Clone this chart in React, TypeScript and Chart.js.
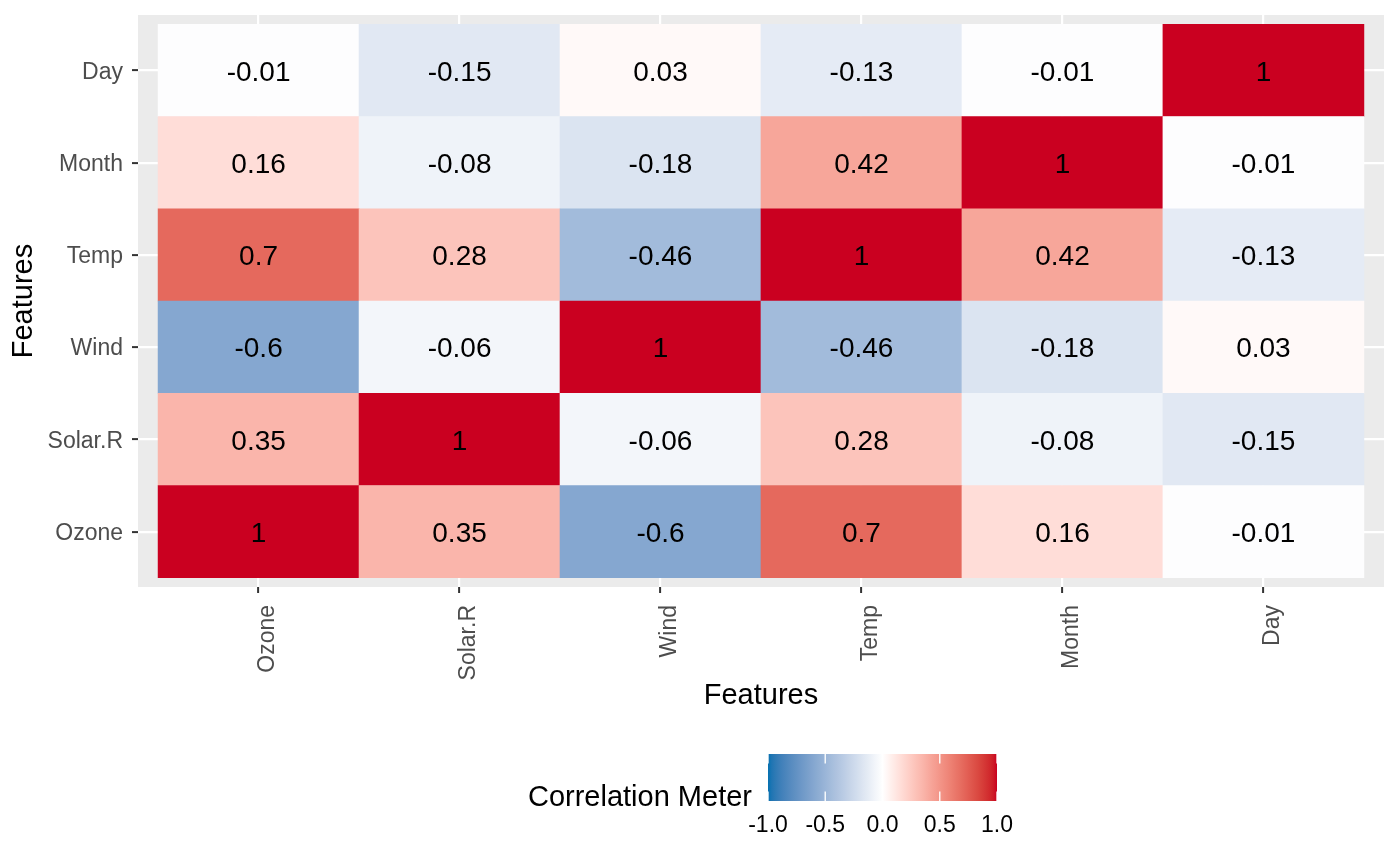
import React, { useEffect, useRef } from "react";
import { Chart, registerables } from "chart.js";

Chart.register(...registerables);

// ---- data ----
const features = ["Ozone", "Solar.R", "Wind", "Temp", "Month", "Day"];
const ozoneRow = [1, 0.35, -0.6, 0.7, 0.16, -0.01];
const solarRow = [0.35, 1, -0.06, 0.28, -0.08, -0.15];
const windRow = [-0.6, -0.06, 1, -0.46, -0.18, 0.03];
const tempRow = [0.7, 0.28, -0.46, 1, 0.42, -0.13];
const monthRow = [0.16, -0.08, -0.18, 0.42, 1, -0.01];
const dayRow = [-0.01, -0.15, 0.03, -0.13, -0.01, 1];
const correlation = [ozoneRow, solarRow, windRow, tempRow, monthRow, dayRow];
const legendTicks = [-1, -0.5, 0, 0.5, 1];
const axisTitle = "Features";
const legendTitle = "Correlation Meter";

// ---- colour (Lab interpolation like scale_fill_gradient2) ----
const LOW = "#0571B0";
const MID = "#FFFFFF";
const HIGH = "#CA0020";

function hexToRgb(h: string) {
  const n = parseInt(h.slice(1), 16);
  return [(n >> 16) & 255, (n >> 8) & 255, n & 255];
}
function toLin(c: number) {
  c /= 255;
  return c <= 0.04045 ? c / 12.92 : Math.pow((c + 0.055) / 1.055, 2.4);
}
function fromLin(c: number) {
  const v = c <= 0.0031308 ? 12.92 * c : 1.055 * Math.pow(c, 1 / 2.4) - 0.055;
  return Math.max(0, Math.min(255, Math.round(v * 255)));
}
const Xn = 0.95047, Yn = 1.0, Zn = 1.08883;
function rgbToLab(rgb: number[]) {
  const r = toLin(rgb[0]), g = toLin(rgb[1]), b = toLin(rgb[2]);
  const X = 0.4124564 * r + 0.3575761 * g + 0.1804375 * b;
  const Y = 0.2126729 * r + 0.7151522 * g + 0.072175 * b;
  const Z = 0.0193339 * r + 0.119192 * g + 0.9503041 * b;
  const f = (t: number) => (t > 0.008856 ? Math.cbrt(t) : 7.787 * t + 16 / 116);
  const fx = f(X / Xn), fy = f(Y / Yn), fz = f(Z / Zn);
  return [116 * fy - 16, 500 * (fx - fy), 200 * (fy - fz)];
}
function labToRgb(lab: number[]) {
  const fy = (lab[0] + 16) / 116;
  const fx = fy + lab[1] / 500;
  const fz = fy - lab[2] / 200;
  const fi = (t: number) => (t * t * t > 0.008856 ? t * t * t : (t - 16 / 116) / 7.787);
  const X = fi(fx) * Xn, Y = fi(fy) * Yn, Z = fi(fz) * Zn;
  const r = 3.2404542 * X - 1.5371385 * Y - 0.4985314 * Z;
  const g = -0.969266 * X + 1.8760108 * Y + 0.041556 * Z;
  const b = 0.0556434 * X - 0.2040259 * Y + 1.0572252 * Z;
  return [fromLin(r), fromLin(g), fromLin(b)];
}
const labLow = rgbToLab(hexToRgb(LOW));
const labMid = rgbToLab(hexToRgb(MID));
const labHigh = rgbToLab(hexToRgb(HIGH));
function fillColor(v: number) {
  const t = Math.min(1, Math.abs(v));
  const end = v >= 0 ? labHigh : labLow;
  const lab = [0, 1, 2].map((k) => labMid[k] + (end[k] - labMid[k]) * t);
  const c = labToRgb(lab);
  return `rgb(${c[0]},${c[1]},${c[2]})`;
}

const FONT = "'Liberation Sans', Arial, Helvetica, sans-serif";

const panelPlugin = {
  id: "panelBg",
  beforeDraw(chart: any) {
    const { ctx, chartArea } = chart;
    ctx.save();
    ctx.fillStyle = "#EBEBEB";
    ctx.fillRect(chartArea.left, chartArea.top, chartArea.right - chartArea.left, chartArea.bottom - chartArea.top);
    ctx.restore();
  },
};

const cellTextPlugin = {
  id: "cellText",
  afterDatasetsDraw(chart: any) {
    const { ctx, scales } = chart;
    ctx.save();
    ctx.fillStyle = "#000000";
    ctx.font = `28px ${FONT}`;
    ctx.textAlign = "center";
    ctx.textBaseline = "middle";
    correlation.forEach((row, j) => {
      row.forEach((v, i) => {
        const x = scales.x.getPixelForValue(i);
        const y = scales.y.getPixelForValue(j);
        ctx.fillText(String(v), x, y + 2.5);
      });
    });
    ctx.restore();
  },
};

const colorbarPlugin = {
  id: "colorbar",
  afterDraw(chart: any) {
    const { ctx } = chart;
    const bx = 768, bw = 229, by = 754, bh = 47;
    ctx.save();
    const grad = ctx.createLinearGradient(bx, 0, bx + bw, 0);
    const n = 60;
    for (let k = 0; k <= n; k++) {
      const v = -1 + (2 * k) / n;
      grad.addColorStop(k / n, fillColor(v));
    }
    ctx.fillStyle = grad;
    ctx.fillRect(bx, by, bw, bh);
    // ticks
    ctx.strokeStyle = "rgba(255,255,255,0.9)";
    ctx.lineWidth = 1.5;
    const tl = bh / 5;
    legendTicks.forEach((t) => {
      const x = bx + ((t + 1) / 2) * bw;
      ctx.beginPath();
      ctx.moveTo(x, by);
      ctx.lineTo(x, by + tl);
      ctx.moveTo(x, by + bh - tl);
      ctx.lineTo(x, by + bh);
      ctx.stroke();
    });
    // labels
    ctx.fillStyle = "#000000";
    ctx.font = `23px ${FONT}`;
    ctx.textAlign = "center";
    ctx.textBaseline = "alphabetic";
    legendTicks.forEach((t) => {
      const x = bx + ((t + 1) / 2) * bw;
      ctx.fillText(t.toFixed(1), x, 832);
    });
    // title
    ctx.font = `29px ${FONT}`;
    ctx.textAlign = "right";
    ctx.fillText(legendTitle, 752, 806);
    ctx.restore();
  },
};

export default function App() {
  const canvasRef = useRef<HTMLCanvasElement | null>(null);

  useEffect(() => {
    document.body.style.margin = "0";
    const canvas = canvasRef.current;
    if (!canvas) return;

    const datasets = correlation.map((row, j) => ({
      label: features[j],
      data: row.map((_, i) => ({ x: i, y: [j - 0.5, j + 0.5] })),
      backgroundColor: row.map((v) => fillColor(v)),
      borderWidth: 0,
      barPercentage: 1,
      categoryPercentage: 1,
      grouped: false,
    }));

    const ticksFor = (scale: any) => {
      scale.ticks = features.map((_, i) => ({ value: i }));
    };

    const chart = new Chart(canvas, {
      type: "bar",
      data: { datasets: datasets as any },
      plugins: [panelPlugin, cellTextPlugin, colorbarPlugin],
      options: {
        animation: false,
        responsive: true,
        maintainAspectRatio: false,
        layout: { padding: { left: 0, right: 16, top: 15, bottom: 130 } },
        plugins: { legend: { display: false }, tooltip: { enabled: false } },
        scales: {
          x: {
            type: "linear",
            min: -0.6,
            max: 5.6,
            offset: false,
            afterBuildTicks: ticksFor,
            afterFit: (scale: any) => {
              scale.height = 149;
              scale.paddingLeft = 0;
              scale.paddingRight = 0;
              scale.paddingTop = 0;
              scale.paddingBottom = 0;
            },
            border: { display: false },
            grid: {
              color: "#FFFFFF",
              lineWidth: 2.2,
              offset: false,
              drawTicks: true,
              tickLength: 6,
              tickColor: "#333333",
              tickWidth: 2,
            },
            ticks: {
              autoSkip: false,
              maxRotation: 90,
              minRotation: 90,
              padding: 12,
              labelOffset: 9,
              color: "#4D4D4D",
              font: { family: FONT, size: 23 },
              callback: (v: any) => features[Math.round(Number(v))] ?? "",
            },
            title: {
              display: true,
              text: axisTitle,
              color: "#000000",
              font: { family: FONT, size: 29 },
              padding: { top: 0, bottom: 22.6 },
            },
          },
          y: {
            type: "linear",
            min: -0.6,
            max: 5.6,
            offset: false,
            afterBuildTicks: ticksFor,
            afterFit: (scale: any) => {
              scale.width = 138;
              scale.paddingLeft = 0;
              scale.paddingRight = 0;
              scale.paddingTop = 0;
              scale.paddingBottom = 0;
            },
            border: { display: false },
            grid: {
              color: "#FFFFFF",
              lineWidth: 2.2,
              offset: false,
              drawTicks: true,
              tickLength: 6,
              tickColor: "#333333",
              tickWidth: 2,
            },
            ticks: {
              autoSkip: false,
              padding: 9,
              labelOffset: 2,
              color: "#4D4D4D",
              font: { family: FONT, size: 23 },
              callback: (v: any) => features[Math.round(Number(v))] ?? "",
            },
            title: {
              display: true,
              text: axisTitle,
              color: "#000000",
              font: { family: FONT, size: 29 },
              padding: { top: 6.6, bottom: 0 },
            },
          },
        },
      } as any,
    });

    return () => {
      chart.destroy();
    };
  }, []);

  return (
    <div style={{ width: 1400, height: 866, position: "relative", background: "#FFFFFF" }}>
      <canvas ref={canvasRef} />
    </div>
  );
}
